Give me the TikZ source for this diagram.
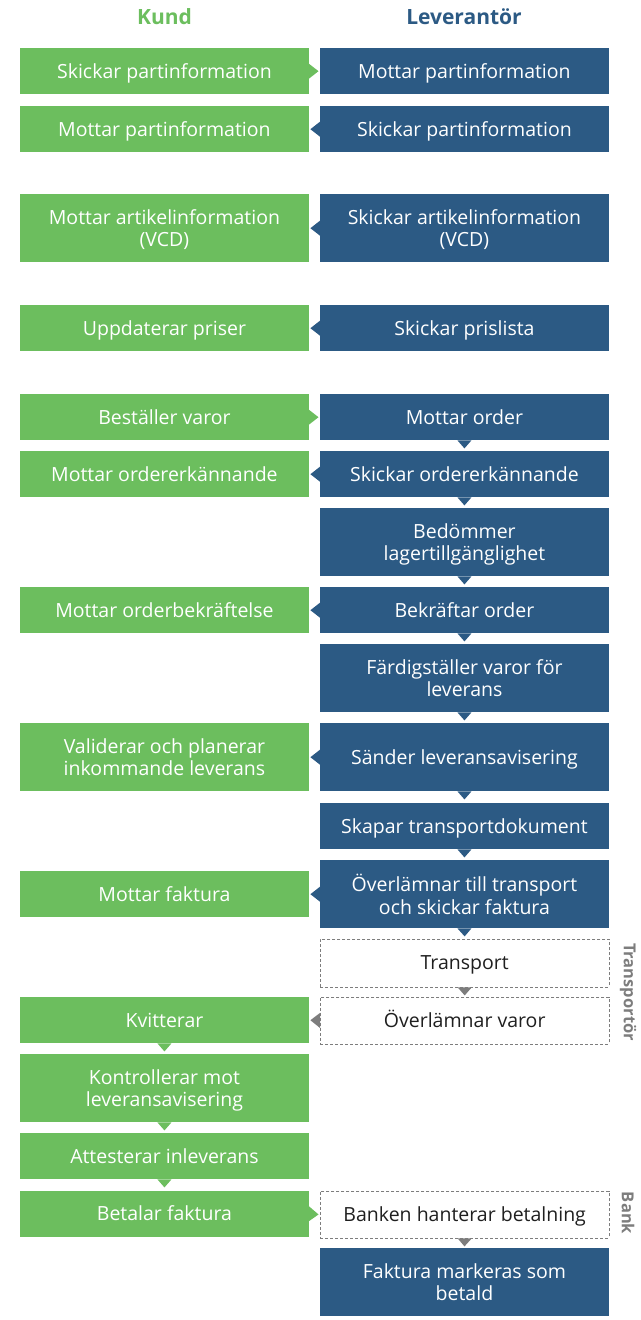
\documentclass[tikz,border=0pt]{standalone}
\usepackage{fontspec}
\setmainfont{Open Sans}
\usetikzlibrary{calc}

\definecolor{kund}{HTML}{6CBE5E}
\definecolor{lev}{HTML}{2C5A84}
\definecolor{ext}{HTML}{7D7D7D}

\tikzset{
  box/.style={anchor=north west, minimum width=288.5pt, inner sep=0pt, align=center,
    font=\fontsize{19.5}{22.5}\selectfont, text=white},
  kbox/.style={box, fill=kund},
  lbox/.style={box, fill=lev},
  xbox/.style={box, fill=white, draw=ext, line width=0.9pt, dash pattern=on 3pt off 2pt, text=black!88,
    text height=14pt, text depth=0pt},
  one/.style={minimum height=46pt, text height=14pt, text depth=0pt},
  two/.style={minimum height=68pt, text depth=0pt},
  head/.style={font=\bfseries\fontsize{21}{25}\selectfont},
  side/.style={rotate=-90, text=ext, font=\bfseries\fontsize{16.5}{20}\selectfont},
}

% pilar mellan rutorna
\newcommand\hoger[3]{\fill[#3] ($(#1.east)+(0,-7.5)$) -- ($(#2.west)+(-1.5,0)$) -- ($(#1.east)+(0,7.5)$) -- cycle;}
\newcommand\vanster[3]{\fill[#3] ($(#1.west)+(0,-7.5)$) -- ($(#2.east)+(1.5,0)$) -- ($(#1.west)+(0,7.5)$) -- cycle;}
\newcommand\nedat[3]{\fill[#3] ($(#1.south)+(-7,0)$) -- ($(#1.south)!8pt!(#2.north)$) -- ($(#1.south)+(7,0)$) -- cycle;}

\begin{document}
\begin{tikzpicture}[x=1pt, y=-1pt]
  \useasboundingbox (0,0) rectangle (640,1320);

  \node[head, text=kund] (kund) at (164.5,17) {Kund};
  \node[head, text=lev] (leverantor) at (464,17) {Leverantör};

  % partinformation, artiklar och priser
  \node[kbox, one] (k1) at (20,48) {Skickar partinformation};
  \node[lbox, one] (l1) at (320,48) {Mottar partinformation};
  \node[kbox, one] (k2) at (20,106) {Mottar partinformation};
  \node[lbox, one] (l2) at (320,106) {Skickar partinformation};
  \node[kbox, two] (k3) at (20,194) {Mottar artikelinformation\\(VCD)};
  \node[lbox, two] (l3) at (320,194) {Skickar artikelinformation\\(VCD)};
  \node[kbox, one] (k4) at (20,305) {Uppdaterar priser};
  \node[lbox, one] (l4) at (320,305) {Skickar prislista};

  % order
  \node[kbox, one] (k5) at (20,394) {Beställer varor};
  \node[lbox, one] (l5) at (320,394) {Mottar order};
  \node[kbox, one] (k6) at (20,451) {Mottar ordererkännande};
  \node[lbox, one] (l6) at (320,451) {Skickar ordererkännande};
  \node[lbox, two] (l7) at (320,508) {Bedömmer\\lagertillgänglighet};
  \node[kbox, one] (k8) at (20,587) {Mottar orderbekräftelse};
  \node[lbox, one] (l8) at (320,587) {Bekräftar order};
  \node[lbox, two] (l9) at (320,644) {Färdigställer varor för\\leverans};
  \node[kbox, two] (k10) at (20,723) {Validerar och planerar\\inkommande leverans};
  \node[lbox, two, text height=14pt] (l10) at (320,723) {Sänder leveransavisering};
  \node[lbox, one] (l11) at (320,803) {Skapar transportdokument};
  \node[kbox, one] (k12) at (20,871) {Mottar faktura};
  \node[lbox, two] (l12) at (320,860) {Överlämnar till transport\\och skickar faktura};

  % transport och betalning
  \node[xbox, minimum height=48pt] (t1) at (320,938.5) {Transport};
  \node[xbox, minimum height=47pt] (t2) at (320,996.5) {Överlämnar varor};
  \node[kbox, one] (k14) at (20,997) {Kvitterar};
  \node[kbox, two] (k15) at (20,1054) {Kontrollerar mot\\leveransavisering};
  \node[kbox, one] (k16) at (20,1133) {Attesterar inleverans};
  \node[kbox, one] (k17) at (20,1190.5) {Betalar faktura};
  \node[xbox, minimum height=47pt] (b1) at (320,1190.5) {Banken hanterar betalning};
  \node[lbox, two] (l18) at (320,1248) {Faktura markeras som\\betald};

  \node[side] (transportor) at (628,992) {Transportör};
  \node[side] (bank) at (628,1213) {Bank};

  \hoger{k1}{l1}{kund}
  \vanster{l2}{k2}{lev}
  \vanster{l3}{k3}{lev}
  \vanster{l4}{k4}{lev}
  \hoger{k5}{l5}{kund}
  \vanster{l6}{k6}{lev}
  \vanster{l8}{k8}{lev}
  \vanster{l10}{k10}{lev}
  \vanster{l12}{k12}{lev}
  \vanster{t2}{k14}{ext}
  \hoger{k17}{b1}{kund}

  \nedat{l5}{l6}{lev}
  \nedat{l6}{l7}{lev}
  \nedat{l7}{l8}{lev}
  \nedat{l8}{l9}{lev}
  \nedat{l9}{l10}{lev}
  \nedat{l10}{l11}{lev}
  \nedat{l11}{l12}{lev}
  \nedat{l12}{t1}{lev}
  \nedat{t1}{t2}{ext}
  \nedat{k14}{k15}{kund}
  \nedat{k15}{k16}{kund}
  \nedat{k16}{k17}{kund}
  \nedat{b1}{l18}{ext}
\end{tikzpicture}
\end{document}
